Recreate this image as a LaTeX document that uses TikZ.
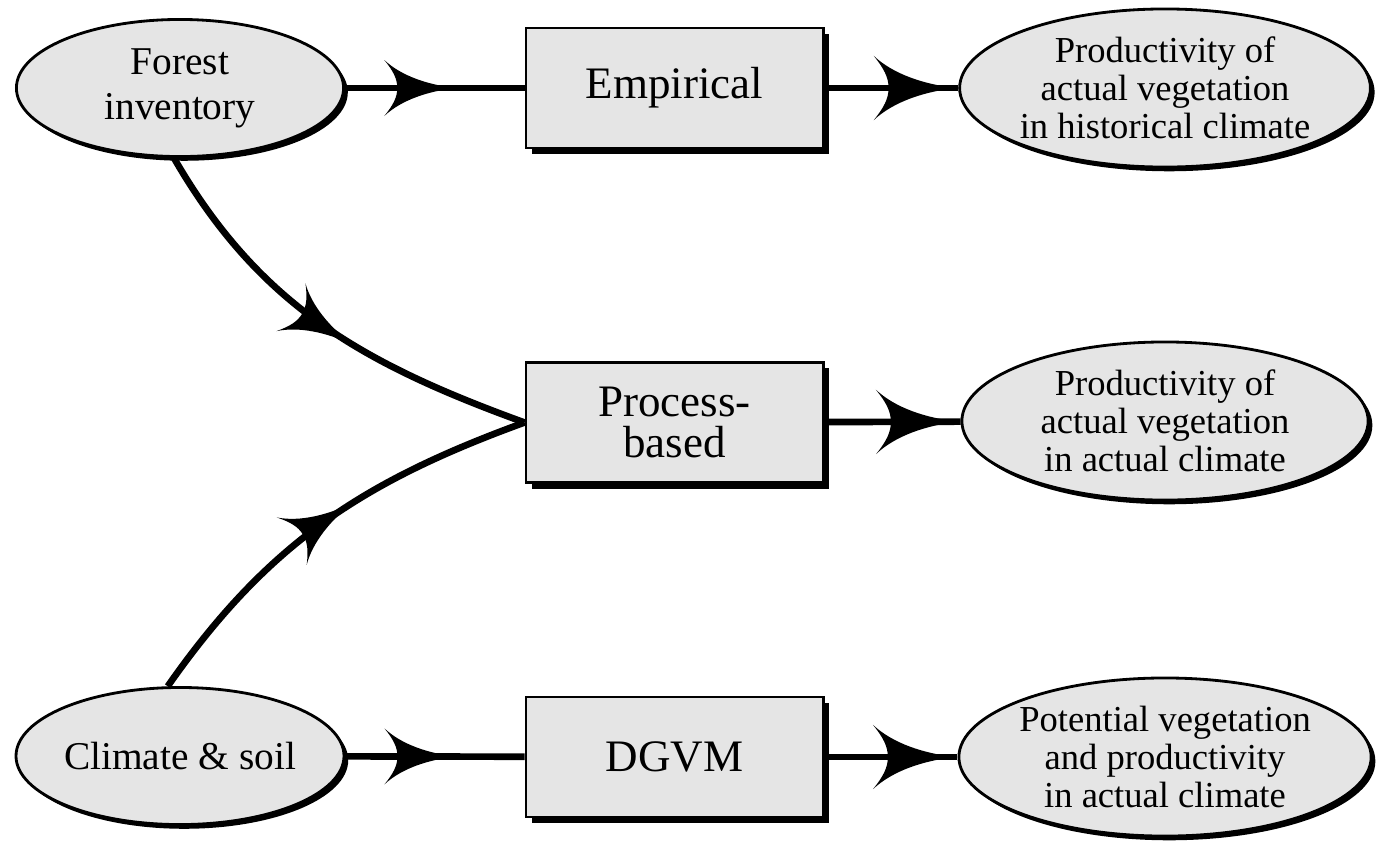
\documentclass[tikz,border=0pt]{standalone}
\usepackage{fontspec}
\setmainfont{Liberation Serif}
\usetikzlibrary{shapes.geometric, shadows, decorations.markings}

\newcommand\vanehead[1][]{\fill[#1] (0,0) .. controls (-28,3) and (-55,12) .. (-72,28)
    .. controls (-63,17) and (-59,9) .. (-59,0)
    .. controls (-59,-9) and (-63,-17) .. (-72,-28)
    .. controls (-55,-12) and (-28,-3) .. (0,0) -- cycle;}

\begin{document}
\begin{tikzpicture}[x=0.01cm, y=0.01cm,
    every node/.style = {draw, line width=0.8pt, fill=gray!20, align=center},
    source/.style = {ellipse, minimum width=3.27cm, minimum height=1.37cm, inner sep=0pt,
        font=\fontsize{11.2}{12.8}\selectfont,
        drop shadow={shadow xshift=1.2pt, shadow yshift=-1.2pt, fill=black, opacity=1}},
    model/.style = {rectangle, minimum width=2.97cm, minimum height=1.2cm,
        font=\fontsize{12.8}{11.6}\selectfont,
        drop shadow={shadow xshift=1.7pt, shadow yshift=-1.7pt, fill=black, opacity=1}},
    result/.style = {ellipse, minimum width=4.06cm, minimum height=1.58cm, inner sep=0pt,
        font=\fontsize{10.4}{10.8}\selectfont,
        drop shadow={shadow xshift=1.2pt, shadow yshift=-1.2pt, fill=black, opacity=1}},
    link/.style = {draw, line width=1.9pt},
    midhead/.style = {postaction={decorate, decoration={markings,
        mark=at position #1 with {\vanehead}}}},
    endhead/.style = {postaction={decorate, decoration={markings,
        mark=at position -0.5pt with {\vanehead[scale=1.15]}}}}]
    \useasboundingbox (0,0) rectangle (1377,844);

    \node[source] (fi) at (180,756) {Forest\\inventory};
    \node[source] (cs) at (180,88) {Climate \& soil};

    \node[model] (emp) at (674.5,756) {Empirical};
    \node[model] (pb) at (674.5,421.5) {Process-\\based};
    \node[model] (dg) at (674.5,87) {DGVM};

    \node[result] (out1) at (1165,756) {Productivity of\\actual vegetation\\in historical climate};
    \node[result] (out2) at (1165,423) {Productivity of\\actual vegetation\\in actual climate};
    \node[result] (out3) at (1165,87) {Potential vegetation\\and productivity\\in actual climate};

    \draw[link, midhead=0.62] (fi) -- (emp);
    \draw[link, endhead] (emp) -- (out1);
    \draw[link, midhead=0.58] (fi.265) to[out=-60, in=160] (pb.west);
    \draw[link, midhead=0.58] (cs.100) to[out=55, in=-160] (pb.west);
    \draw[link, endhead] (pb) -- (out2);
    \draw[link, midhead=0.62] (cs) -- (dg);
    \draw[link, endhead] (dg) -- (out3);
\end{tikzpicture}
\end{document}
